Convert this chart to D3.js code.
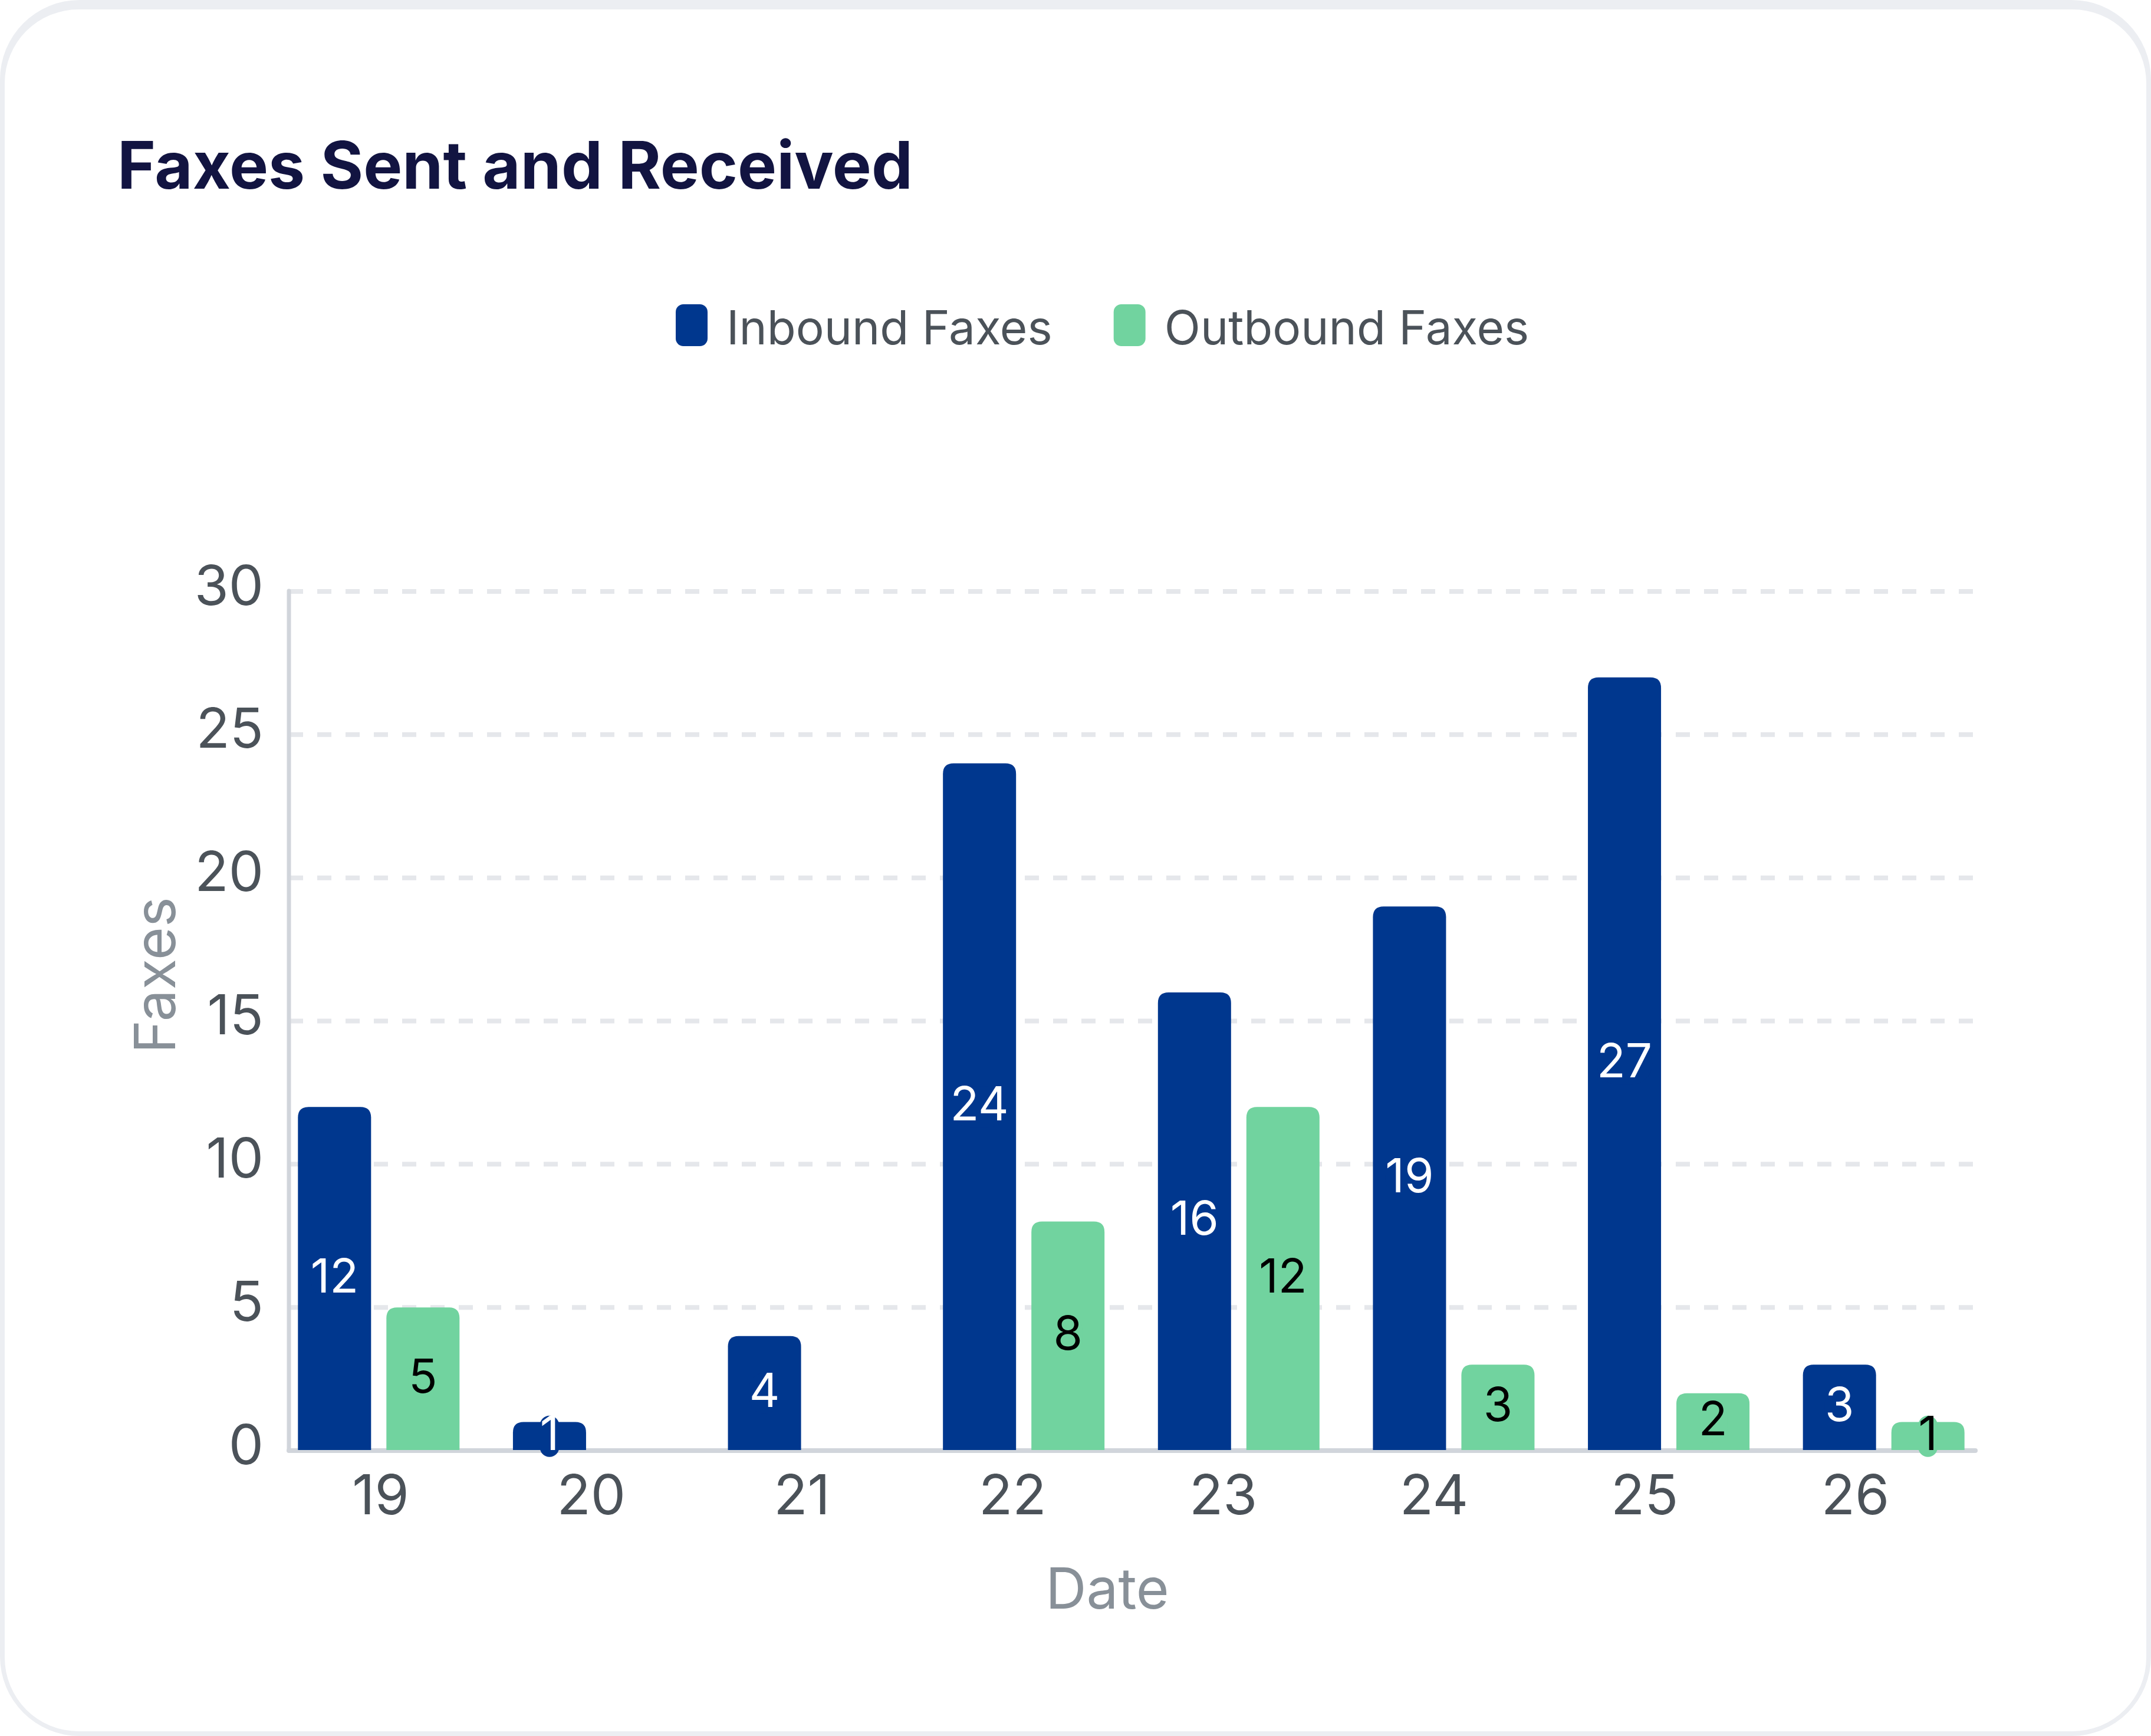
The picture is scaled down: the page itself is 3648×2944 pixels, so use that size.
<!DOCTYPE html>
<html>
<head>
<meta charset="utf-8">
<script src="https://cdn.jsdelivr.net/npm/d3@7"></script>
<style>
  html, body { margin: 0; padding: 0; background: #fff; }
  svg { display: block; font-family: Inter, "Noto Sans", sans-serif; }
</style>
</head>
<body>
<div id="chart"></div>
<script>
// chart data
const dates = ['19', '20', '21', '22', '23', '24', '25', '26'];
const inbound = [12, 1, 4, 24, 16, 19, 27, 3];
const outbound = [5, 0, 0, 8, 12, 3, 2, 1];
const seriesNames = ['Inbound Faxes', 'Outbound Faxes'];
const yTicks = [0, 5, 10, 15, 20, 25, 30];

const width = 3648;
const height = 2944;
const colors = ['#00378e', '#71d39f'];
const labelColors = ['#ffffff', '#000000'];

const svg = d3.select('#chart')
  .append('svg')
  .attr('width', width)
  .attr('height', height);

// card with light border (thicker on top)
svg.append('rect')
  .attr('x', 0).attr('y', 0)
  .attr('width', width).attr('height', height)
  .attr('rx', 135).attr('fill', '#eceef2');
svg.append('rect')
  .attr('x', 8).attr('y', 16)
  .attr('width', width - 16).attr('height', height - 24)
  .attr('rx', 125).attr('fill', '#ffffff');

// title
svg.append('text')
  .attr('x', 199)
  .attr('y', 320)
  .attr('font-size', 111)
  .attr('font-weight', 700)
  .attr('fill', '#121441')
  .text('Faxes Sent and Received');

// legend
const legend = svg.append('g').attr('class', 'legend');
let lx = 1146;
seriesNames.forEach((name, i) => {
  legend.append('rect')
    .attr('x', lx).attr('y', 516)
    .attr('width', 54).attr('height', 71)
    .attr('rx', 13)
    .attr('fill', colors[i]);
  const t = legend.append('text')
    .attr('x', lx + 86)
    .attr('y', 584)
    .attr('font-size', 80)
    .attr('fill', '#4b5259')
    .text(name);
  lx += 86 + t.node().getComputedTextLength() + 104;
});

// scales
const y = d3.scaleLinear().domain([0, 30]).range([2460, 1003]);
const xLabel = d3.scalePoint().domain(dates).range([645, 3146]);
const x0 = d3.scaleBand().domain(dates).range([460, 3377])
  .paddingInner(0.2485).paddingOuter(0.12425);
const x1 = d3.scaleBand().domain([0, 1]).range([0, x0.bandwidth()])
  .paddingInner(0.1733);

const plotLeft = 490;
const plotRight = 3350;

// dashed grid lines
svg.append('g')
  .selectAll('line')
  .data(yTicks.filter(d => d > 0))
  .enter().append('line')
  .attr('x1', plotLeft).attr('x2', plotRight)
  .attr('y1', d => y(d)).attr('y2', d => y(d))
  .attr('stroke', '#e5e7eb')
  .attr('stroke-width', 8)
  .attr('stroke-dasharray', '24,24')
  .attr('stroke-dashoffset', 0);

// axis lines
svg.append('line')
  .attr('x1', plotLeft).attr('x2', plotLeft)
  .attr('y1', y(30) - 1).attr('y2', y(0))
  .attr('stroke', '#d1d5db').attr('stroke-width', 7)
  .attr('stroke-linecap', 'round');
svg.append('line')
  .attr('x1', plotLeft).attr('x2', plotRight)
  .attr('y1', y(0)).attr('y2', y(0))
  .attr('stroke', '#d1d5db').attr('stroke-width', 8)
  .attr('stroke-linecap', 'round');

// y tick labels
const yAxis = d3.axisLeft(y).tickValues(yTicks).tickSize(0).tickPadding(43);
const yg = svg.append('g')
  .attr('transform', `translate(${plotLeft},0)`)
  .call(yAxis);
yg.select('.domain').remove();
yg.selectAll('text')
  .attr('font-family', 'Inter, sans-serif')
  .attr('font-size', 94)
  .attr('fill', '#4b5259')
  .attr('dy', null)
  .attr('y', 22);

// x tick labels
const xAxis = d3.axisBottom(xLabel).tickSize(0).tickPadding(0);
const xg = svg.append('g')
  .attr('transform', 'translate(0,2568)')
  .call(xAxis);
xg.select('.domain').remove();
xg.selectAll('text')
  .attr('font-family', 'Inter, sans-serif')
  .attr('font-size', 94)
  .attr('fill', '#4b5259')
  .attr('dy', null)
  .attr('y', 0);

// axis titles
svg.append('text')
  .attr('transform', 'translate(297,1654) rotate(-90)')
  .attr('text-anchor', 'middle')
  .attr('font-size', 96)
  .attr('fill', '#889098')
  .text('Faxes');
svg.append('text')
  .attr('x', 1878).attr('y', 2728)
  .attr('text-anchor', 'middle')
  .attr('font-size', 96)
  .attr('fill', '#889098')
  .text('Date');

// bars with rounded top corners
function topRounded(x, yTop, w, h, r) {
  r = Math.min(r, h, w / 2);
  return `M${x},${yTop + h}V${yTop + r}Q${x},${yTop} ${x + r},${yTop}` +
    `H${x + w - r}Q${x + w},${yTop} ${x + w},${yTop + r}V${yTop + h}Z`;
}

const rows = dates.map((d, i) => ({ date: d, values: [inbound[i], outbound[i]] }));

const groups = svg.append('g')
  .selectAll('g')
  .data(rows)
  .enter().append('g')
  .attr('transform', d => `translate(${x0(d.date)},0)`);

const cells = groups.selectAll('g')
  .data(d => d.values.map((v, k) => ({ k, v })).filter(c => c.v > 0))
  .enter().append('g');

cells.append('path')
  .attr('fill', c => colors[c.k])
  .attr('d', c => topRounded(x1(c.k), y(c.v), x1.bandwidth(), y(0) - y(c.v) - 1, 18));

// value labels with a pill behind them
cells.each(function (c) {
  const g = d3.select(this);
  const cx = x1(c.k) + x1.bandwidth() / 2;
  const mid = (y(c.v) + y(0)) / 2;
  const pill = g.append('rect');
  const t = g.append('text')
    .attr('x', cx)
    .attr('y', mid + 23)
    .attr('text-anchor', 'middle')
    .attr('font-size', 80)
    .attr('fill', labelColors[c.k])
    .text(c.v);
  const w = t.node().getComputedTextLength();
  pill
    .attr('x', cx - w / 2).attr('y', mid - 35)
    .attr('width', w).attr('height', 70)
    .attr('rx', Math.min(w, 70) / 2)
    .attr('fill', colors[c.k]);
});
</script>
</body>
</html>
